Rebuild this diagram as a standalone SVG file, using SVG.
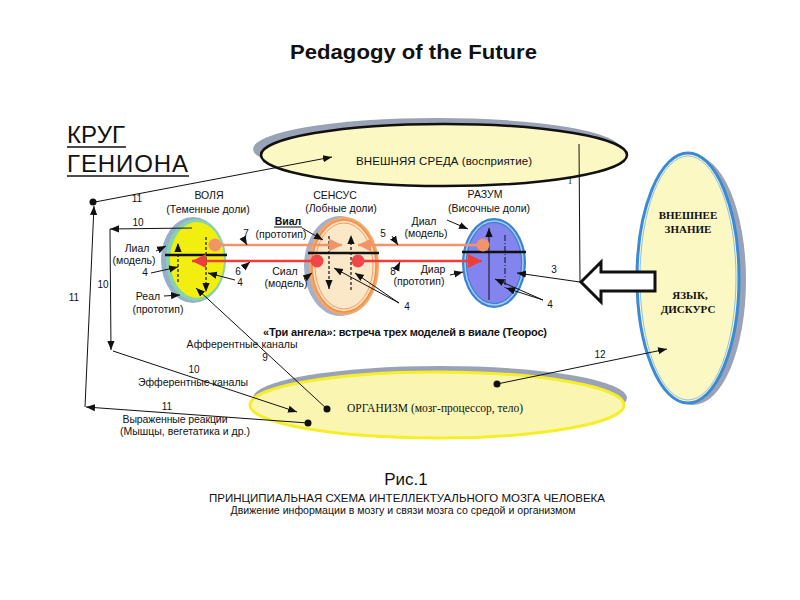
<svg xmlns="http://www.w3.org/2000/svg" width="800" height="600" viewBox="0 0 800 600">
<defs>
<style>
text{font-family:"Liberation Sans",Arial,sans-serif;fill:#111;}
.lbl{font-size:10.5px;text-anchor:middle}
.sm{font-size:10px;text-anchor:middle}
.ser{font-family:"Liberation Serif","Times New Roman",serif}
.ln{stroke:#111;stroke-width:1;fill:none}
.dash{stroke:#111;stroke-width:1.2;stroke-dasharray:3 2;fill:none}
.axis{stroke:#111;stroke-width:2.5}
.dot{fill:#111}
.org{stroke:#f39468;stroke-width:2.5;fill:none}
.red{stroke:#f03c3c;stroke-width:2.5;fill:none}
.shadow{fill:#9aa2b6}
</style>
<marker id="ah" viewBox="0 0 10 10" refX="10" refY="5" markerWidth="9" markerHeight="9" markerUnits="userSpaceOnUse" orient="auto"><path d="M0,1 L10,5 L0,9 z" fill="#111"/></marker>
<marker id="ahO" viewBox="0 0 10 10" refX="10" refY="5" markerWidth="13" markerHeight="13" markerUnits="userSpaceOnUse" orient="auto"><path d="M0,0 L10,5 L0,10 z" fill="#f39468"/></marker>
<marker id="ahR" viewBox="0 0 10 10" refX="10" refY="5" markerWidth="14" markerHeight="14" markerUnits="userSpaceOnUse" orient="auto"><path d="M0,0 L10,5 L0,10 z" fill="#f03c3c"/></marker>
</defs>
<rect width="800" height="600" fill="#fff"/>

<g id="title">
<text x="290" y="59" font-size="19.5" font-weight="bold" textLength="247" lengthAdjust="spacingAndGlyphs">Pedagogy of the Future</text>
<text x="67" y="143" font-family="DejaVu Sans, sans-serif" font-size="24" textLength="58">КРУГ</text>
<text x="67" y="172" font-family="DejaVu Sans, sans-serif" font-size="24" textLength="121">ГЕНИОНА</text>
<line x1="67" y1="147" x2="126" y2="147" stroke="#111" stroke-width="1.5"/>
<line x1="67" y1="176" x2="189" y2="176" stroke="#111" stroke-width="1.5"/>
</g>

<g id="env">
<ellipse class="shadow" cx="437" cy="149" rx="184" ry="31"/>
<ellipse cx="444" cy="155" rx="183" ry="31" fill="#fbf8c4" stroke="#111" stroke-width="2.5"/>
<text x="444" y="165" font-size="11.5" text-anchor="middle" textLength="176">ВНЕШНЯЯ СРЕДА  (восприятие)</text>
</g>

<g id="knowledge">
<ellipse class="shadow" cx="693" cy="280" rx="53" ry="125"/>
<ellipse cx="688" cy="278" rx="51" ry="125" fill="#fbf8c4" stroke="#3a8ad8" stroke-width="3"/>
<ellipse cx="688" cy="278" rx="48" ry="122" fill="none" stroke="#8cc0ec" stroke-width="1"/>
<g font-size="11" font-weight="bold" text-anchor="middle">
<text x="688" y="219" class="ser" fill="#333">ВНЕШНЕЕ</text>
<text x="688" y="233" class="ser" fill="#333">ЗНАНИЕ</text>
<text x="690" y="299" class="ser" fill="#333">ЯЗЫК,</text>
<text x="688" y="313" class="ser" fill="#333">ДИСКУРС</text>
</g>
</g>

<g id="organism">
<ellipse class="shadow" cx="440" cy="398" rx="187" ry="32"/>
<ellipse cx="437" cy="405" rx="187" ry="33" fill="#faf6b2" stroke="#f5ee2a" stroke-width="3"/>
<text x="435" y="412" class="ser" font-size="11.5" text-anchor="middle" textLength="176">ОРГАНИЗМ (мозг-процессор, тело)</text>
</g>

<g id="input-arrow">
<polygon points="581,282 601,262 601,272 655,272 655,291 601,291 601,302" fill="#fff" stroke="#111" stroke-width="3" stroke-linejoin="miter"/>
</g>

<g id="volya">
<ellipse cx="193" cy="260" rx="32" ry="43" fill="#95b0cc"/>
<ellipse cx="196" cy="260" rx="30" ry="41" fill="#88d4a8"/>
<ellipse cx="197" cy="260" rx="27" ry="38" fill="#f2ef10"/>
<line class="axis" x1="165" y1="255" x2="227" y2="255"/>
<line class="dash" x1="178" y1="282" x2="178" y2="243" marker-end="url(#ah)"/>
<line class="dash" x1="206" y1="237" x2="206" y2="292" marker-end="url(#ah)"/>
<text x="209" y="199" class="lbl" font-size="12">ВОЛЯ</text>
<text x="208" y="213" class="lbl">(Теменные доли)</text>
</g>

<g id="sensus">
<ellipse cx="340" cy="266" rx="36" ry="50" fill="#a8b0c8"/>
<ellipse cx="344" cy="266" rx="35" ry="49" fill="#f3a868"/>
<ellipse cx="344" cy="266" rx="32" ry="46" fill="#fde0b8" stroke="#f09050" stroke-width="1.5"/>
<ellipse cx="344" cy="266" rx="29" ry="43" fill="#fbe8c8" stroke="#f0a070" stroke-width="1"/>
<line class="axis" x1="308" y1="253" x2="379" y2="253"/>
<line class="dash" x1="329" y1="236" x2="329" y2="289" marker-end="url(#ah)"/>
<line class="dash" x1="351" y1="290" x2="351" y2="235" marker-end="url(#ah)"/>
<text x="335" y="199" class="lbl" font-size="12">СЕНСУС</text>
<text x="341" y="212" class="lbl">(Лобные доли)</text>
</g>

<g id="razum">
<ellipse cx="494" cy="263" rx="32" ry="45" fill="#3c82d2"/>
<ellipse cx="494" cy="263" rx="29" ry="42" fill="none" stroke="#a8ccf0" stroke-width="1.5"/>
<ellipse cx="494" cy="263" rx="27" ry="40" fill="#8484ee"/>
<line class="axis" x1="462" y1="252" x2="526" y2="252"/>
<line class="ln" x1="489" y1="300" x2="489" y2="228" marker-end="url(#ah)"/>
<line x1="505" y1="235" x2="505" y2="290" stroke="#111" stroke-width="1" stroke-dasharray="6 2 1 2"/>
<text x="485" y="198" class="lbl" font-size="12">РАЗУМ</text>
<text x="489" y="212" class="lbl">(Височные доли)</text>
</g>

<g id="flows">
<line class="org" x1="215" y1="245" x2="342" y2="245" marker-end="url(#ahO)"/>
<line class="org" x1="483" y1="245" x2="358" y2="245" marker-end="url(#ahO)"/>
<line class="red" x1="317" y1="261" x2="192" y2="261" marker-end="url(#ahR)"/>
<line class="red" x1="358" y1="261" x2="482" y2="261" marker-end="url(#ahR)"/>
<circle cx="215" cy="245" r="6.5" fill="#f39468"/>
<circle cx="483" cy="245" r="6.5" fill="#f39468"/>
<circle cx="317" cy="261" r="6.5" fill="#f04848"/>
<circle cx="358" cy="261" r="6.5" fill="#f04848"/>
</g>

<g id="connectors">
<line class="ln" x1="95" y1="202" x2="332" y2="157" marker-end="url(#ah)"/>
<circle class="dot" cx="93" cy="202" r="3.5"/>
<line class="ln" x1="85" y1="407" x2="94" y2="206" marker-end="url(#ah)"/>
<line class="ln" x1="308" y1="423" x2="86" y2="407" marker-end="url(#ah)"/>
<circle class="dot" cx="308" cy="423" r="3.5"/>
<line class="ln" x1="192" y1="228" x2="110" y2="229" marker-end="url(#ah)"/>
<line class="ln" x1="110" y1="229" x2="111" y2="350" marker-end="url(#ah)"/>
<line class="ln" x1="113" y1="351" x2="297" y2="412" marker-end="url(#ah)"/>
<line class="ln" x1="327" y1="409" x2="196" y2="288" marker-end="url(#ah)"/>
<circle class="dot" cx="327" cy="409" r="3.5"/>
<line class="ln" x1="497" y1="384" x2="667" y2="349" marker-end="url(#ah)"/>
<circle class="dot" cx="497" cy="384" r="3.5"/>
<line class="ln" x1="579" y1="144" x2="580" y2="282"/>
<line class="ln" x1="580" y1="282" x2="517" y2="273" marker-end="url(#ah)"/>
<line class="ln" x1="543" y1="300" x2="495" y2="279" marker-end="url(#ah)"/>
<line class="ln" x1="543" y1="300" x2="506" y2="288" marker-end="url(#ah)"/>
<line class="ln" x1="399" y1="303" x2="334" y2="268" marker-end="url(#ah)"/>
<line class="ln" x1="399" y1="303" x2="355" y2="273" marker-end="url(#ah)"/>
<line class="ln" x1="151" y1="273" x2="178" y2="267" marker-end="url(#ah)"/>
<line class="ln" x1="235" y1="280" x2="208" y2="273" marker-end="url(#ah)"/>
<line class="ln" x1="156" y1="251" x2="166" y2="246" marker-end="url(#ah)"/>
<line class="ln" x1="164" y1="296" x2="180" y2="295" marker-end="url(#ah)"/>
<line class="ln" x1="302" y1="228" x2="323" y2="240" marker-end="url(#ah)"/>
<line class="ln" x1="304" y1="279" x2="312" y2="273" marker-end="url(#ah)"/>
<line class="ln" x1="447" y1="220" x2="468" y2="229" marker-end="url(#ah)"/>
<line class="ln" x1="450" y1="275" x2="463" y2="272" marker-end="url(#ah)"/>
<line class="ln" x1="243" y1="238" x2="247" y2="245" marker-end="url(#ah)"/>
<line class="ln" x1="243" y1="268" x2="250" y2="262" marker-end="url(#ah)"/>
<line class="ln" x1="392" y1="236" x2="398" y2="245" marker-end="url(#ah)"/>
<line class="ln" x1="397" y1="268" x2="400" y2="262" marker-end="url(#ah)"/>
</g>

<g id="labels">
<text x="137" y="202" class="sm">11</text>
<text x="74" y="301" class="sm">11</text>
<text x="167" y="410" class="sm">11</text>
<text x="138" y="226" class="sm">10</text>
<text x="103" y="288" class="sm">10</text>
<text x="194" y="373" class="sm">10</text>
<text x="265" y="361" class="sm">9</text>
<text x="600" y="358" class="sm">12</text>
<text x="570" y="184" class="ser" font-size="9" text-anchor="middle">1</text>
<text x="554" y="273" class="sm">3</text>
<text x="550" y="308" class="sm">4</text>
<text x="407" y="310" class="sm">4</text>
<text x="145" y="276" class="sm">4</text>
<text x="240" y="286" class="sm">4</text>
<text x="246" y="237" class="sm">7</text>
<text x="238" y="275" class="sm">6</text>
<text x="383" y="237" class="sm">5</text>
<text x="393" y="275" class="sm">8</text>

<text x="137" y="252" class="lbl">Лиал</text>
<text x="134" y="264" class="lbl">(модель)</text>
<text x="148" y="300" class="lbl">Реал</text>
<text x="158" y="313" class="lbl">(прототип)</text>
<text x="288" y="225" class="lbl" font-weight="bold">Виал</text>
<line x1="274" y1="227" x2="302" y2="227" stroke="#111" stroke-width="1"/>
<text x="281" y="238" class="lbl">(прототип)</text>
<text x="285" y="275" class="lbl">Сиал</text>
<text x="286" y="287" class="lbl">(модель)</text>
<text x="424" y="225" class="lbl">Диал</text>
<text x="426" y="237" class="lbl">(модель)</text>
<text x="433" y="273" class="lbl">Диар</text>
<text x="419" y="285" class="lbl">(прототип)</text>

<text x="405" y="336" font-size="11" font-weight="bold" text-anchor="middle" textLength="284">«Три ангела»: встреча трех моделей в виале (Теорос)</text>
<text x="242" y="348" class="lbl" textLength="111">Афферентные каналы</text>
<text x="193" y="386" class="lbl" textLength="110">Эфферентные каналы</text>
<text x="175" y="423" class="lbl" textLength="105">Выраженные реакции</text>
<text x="185" y="435" class="lbl" textLength="130">(Мышцы, вегетатика и др.)</text>

<text x="406" y="485" font-size="17" text-anchor="middle">Рис.1</text>
<text x="407" y="502" font-size="11.5" text-anchor="middle" textLength="396">ПРИНЦИПИАЛЬНАЯ СХЕМА ИНТЕЛЛЕКТУАЛЬНОГО МОЗГА ЧЕЛОВЕКА</text>
<text x="403" y="514" font-size="10.5" text-anchor="middle" textLength="345" lengthAdjust="spacingAndGlyphs">Движение информации в мозгу и связи мозга со средой и организмом</text>
</g>
</svg>
